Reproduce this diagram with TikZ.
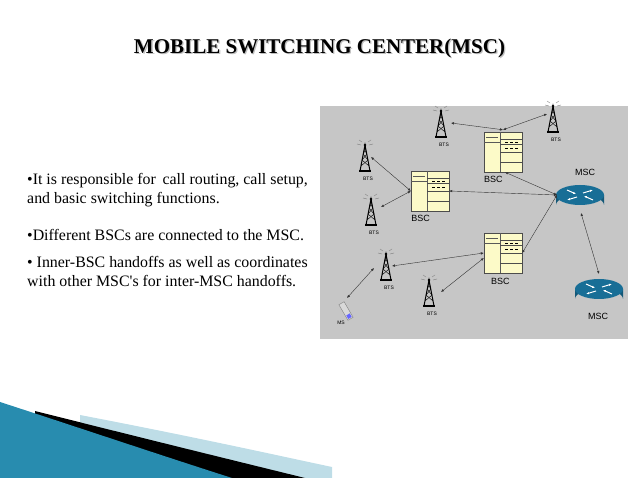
\documentclass[tikz,border=0pt]{standalone}
\usepackage{fontspec}
\setmainfont{Liberation Serif}
\newfontfamily\labelfont{Liberation Sans}
\usetikzlibrary{positioning,arrows.meta,calc}
\definecolor{panelgray}{RGB}{198,198,198}
\definecolor{bscyellow}{RGB}{252,250,200}
\definecolor{routerblue}{RGB}{24,110,150}
\definecolor{swoosh}{RGB}{40,140,175}

\newcommand{\DrawTower}[2]{
    % tower body and antenna
    \begin{scope}[shift={(#1)}]
        \draw[black, line width=1pt] (-5,14) -- (0,-12) -- (5,14);
        \draw[black, thin] (-4,9) -- (3,3) -- (-2,-3) -- (1,-8);
        \draw[black, thin] (4,9) -- (-3,3) -- (2,-3) -- (-1,-8);
        \draw[black, line width=1.2pt] (-6,14) -- (6,14);
        \fill (0,-12) circle (1.3);
        \draw[gray] (-3,-15) -- (-6,-17) (3,-15) -- (6,-17) (-4,-12) -- (-8,-13) (4,-12) -- (8,-13);
    \end{scope}
    \node[btslabel] (#2) at ($(#1)+(3,22)$) {BTS};
}
\newcommand{\DrawBSC}[2]{
    \node[bscbox] (#2) at (#1) {};
    \draw[gray!70!black, thin] ($(#2.north)+(-3,0)$) -- ++(0,40);
    \draw[gray!70!black, thin] ($(#2.north west)+(0,10)$) -- ++(16,0);
    \draw[gray!70!black, thin] ($(#2.north west)+(2,5)$) -- ++(12,0);
    \foreach \dy in {7,12,20,30}
        \draw[black!70, thin] ($(#2.north)+(-3,\dy)$) -- ($(#2.north east)+(0,\dy)$);
    \draw[black, densely dashed] ($(#2.north)+(2,16)$) -- ($(#2.north east)+(-3,16)$);
    \draw[black, densely dashed] ($(#2.north)+(2,10)$) -- ($(#2.north east)+(-3,10)$);
}
\newcommand{\DrawRouter}[2]{
    \begin{scope}[shift={(#1)}]
        \fill[routerblue!80!black] (-24,0) -- (-24,10) arc[start angle=180, end angle=360, x radius=24, y radius=10] -- (24,0) -- cycle;
        \fill[routerblue] (0,0) ellipse[x radius=24, y radius=10];
        \draw[white, line width=1pt, -{Latex[length=3pt]}] (-13,-5) -- (-4,-1);
        \draw[white, line width=1pt, -{Latex[length=3pt]}] (13,5) -- (4,1);
        \draw[white, line width=1pt, -{Latex[length=3pt]}] (-3,2) -- (-13,5);
        \draw[white, line width=1pt, -{Latex[length=3pt]}] (3,-2) -- (13,-5);
    \end{scope}
    \node[coordinate] (#2) at (#1) {};
}

\begin{document}
\begin{tikzpicture}[
        x=1pt, y=-1pt,
        btslabel/.style={font=\labelfont\fontsize{5}{6}\selectfont, inner sep=0pt},
        devlabel/.style={font=\labelfont\fontsize{9}{10}\selectfont, inner sep=0pt},
        bscbox/.style={draw=gray!60!black, fill=bscyellow, minimum width=38pt, minimum height=40pt, inner sep=0pt},
        link/.style={{Latex[length=3pt,width=2.5pt]}-{Latex[length=3pt,width=2.5pt]}, black!80, thin},
        bullet/.style={font=\fontsize{15.9}{19}\selectfont, anchor=north west, inner sep=0pt, align=left}
    ]
  \useasboundingbox (0,0) rectangle (638,478);
  % bottom swoosh
  \fill[swoosh!30] (80,415) .. controls (200,438) and (280,456) .. (332,467) -- (332,478) -- (80,478) -- cycle;
  \fill[black] (35,411) .. controls (150,440) and (240,462) .. (305,478) -- (35,478) -- cycle;
  \fill[swoosh] (0,402) .. controls (80,428) and (160,455) .. (232,478) -- (0,478) -- cycle;

  % title
  \node[font=\bfseries\fontsize{21}{24}\selectfont, text=black!25, inner sep=0pt] at (320.8,49.8) {MOBILE SWITCHING CENTER(MSC)};
  \node[font=\bfseries\fontsize{21}{24}\selectfont, inner sep=0pt] (title) at (319.5,48.5) {MOBILE SWITCHING CENTER(MSC)};

  % bullet text
  \node[bullet] (txt1) at (27,173) {•It is responsible for\, call routing, call setup,\\and basic switching functions.};
  \node[bullet] (txt2) at (27,229) {•Different BSCs are connected to the MSC.};
  \node[bullet] (txt3) at (27,256) {• Inner-BSC handoffs as well as coordinates\\with other MSC\textquotesingle s for inter-MSC handoffs.};

  % diagram panel
  \fill[panelgray] (320,106) rectangle (628,339);
  \coordinate (t1) at (441,123);
  \coordinate (t2) at (553,118);
  \coordinate (t3) at (365,157);
  \coordinate (t4) at (371,211);
  \coordinate (t5) at (386,266);
  \coordinate (t6) at (429,292);
  \DrawTower{t1}{bts1}
  \DrawTower{t2}{bts2}
  \DrawTower{t3}{bts3}
  \DrawTower{t4}{bts4}
  \DrawTower{t5}{bts5}
  \DrawTower{t6}{bts6}
  \DrawBSC{503,152}{bscA}
  \DrawBSC{430,191}{bscB}
  \DrawBSC{503,253}{bscC}
  \node[devlabel, below=4pt of bscA.south west, anchor=north west] (bscAl) {BSC};
  \node[devlabel, below=4pt of bscB.south, anchor=north east] (bscBl) {BSC};
  \node[devlabel, below=5pt of bscC.south, anchor=north west, xshift=-12pt] (bscCl) {BSC};
  \DrawRouter{580,195}{msc1}
  \DrawRouter{599,289}{msc2}
  \node[devlabel] (msc1l) at (585,172) {MSC};
  \node[devlabel] (msc2l) at (598,316) {MSC};
  % mobile station
  \begin{scope}[shift={(346,311)}, rotate=-60]
    \fill[gray!30, draw=gray] (-9,-3) rectangle (9,3);
    \fill[blue!60] (4,-2) rectangle (8,2);
  \end{scope}
  \node[btslabel] (ms) at (341,323) {MS};
  \coordinate (msTop) at (347,298);

  % links
  \draw[link] ($(bscA.north)+(0,-2)$) -- ($(t1)+(10,0)$);
  \draw[link] ($(bscA.north)+(0,-2)$) -- ($(t2)+(-6,-4)$);
  \draw[link] ($(bscA.south)+(2,0)$) -- ($(msc1)+(-23,0)$);
  \draw[link] (bscB.west) -- ($(t3)+(6,0)$);
  \draw[link] (bscB.west) -- ($(t4)+(10,-4)$);
  \draw[link] (bscB.east) -- ($(msc1)+(-23,0)$);
  \draw[link] (bscC.east) -- ($(msc1)+(-23,0)$);
  \draw[link] (bscC.west) -- ($(t5)+(6,0)$);
  \draw[link] ($(bscC.west)+(0,5)$) -- ($(t6)+(12,0)$);
  \draw[link] ($(t5)+(-12,2)$) -- (msTop);
  \draw[link] ($(msc1)+(1,18)$) -- ($(msc2)+(0,-15)$);
\end{tikzpicture}
\end{document}
